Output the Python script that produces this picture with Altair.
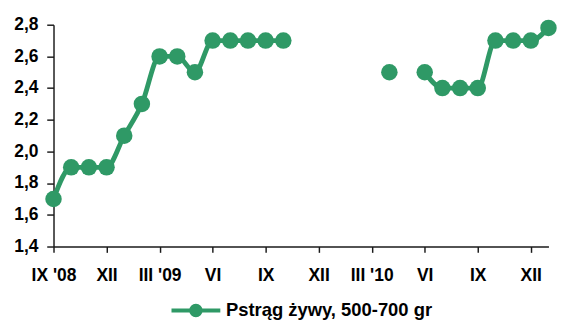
import json
import altair as alt
import pandas as pd

GREEN = "#2f9966"
FONT = "Liberation Sans"

months = ["2008-09", "2008-10", "2008-11", "2008-12", "2009-01", "2009-02", "2009-03",
          "2009-04", "2009-05", "2009-06", "2009-07", "2009-08", "2009-09", "2009-10",
          "2009-11", "2009-12", "2010-01", "2010-02", "2010-03", "2010-04", "2010-05",
          "2010-06", "2010-07", "2010-08", "2010-09", "2010-10", "2010-11", "2010-12",
          "2011-01"]
price = [1.7, 1.9, 1.9, 1.9, 2.1, 2.3, 2.6, 2.6, 2.5, 2.7, 2.7, 2.7, 2.7, 2.7,
         None, None, None, None, None, 2.5, None, 2.5, 2.4, 2.4, 2.4, 2.7, 2.7, 2.7, 2.78]
tick_months = ["2008-09", "2008-12", "2009-03", "2009-06", "2009-09", "2009-12",
               "2010-03", "2010-06", "2010-09", "2010-12"]
tick_labels = ["IX '08", "XII", "III '09", "VI", "IX", "XII", "III '10", "VI", "IX", "XII"]
y_ticks = [1.4, 1.6, 1.8, 2.0, 2.2, 2.4, 2.6, 2.8]
series_name = "Pstrąg żywy, 500-700 gr"

df = pd.DataFrame({
    "month": months,
    "idx": list(range(len(months))),
    "price": price,
    "series": [series_name] * len(months),
})

tick_idx = [months.index(m) for m in tick_months]
label_arr = [""] * len(months)
for i, lab in zip(tick_idx, tick_labels):
    label_arr[i] = lab
x_label_expr = json.dumps(label_arr) + "[round(datum.value)]"

x_enc = alt.X(
    "idx:Q",
    scale=alt.Scale(domain=[0, len(months) - 1], nice=False, zero=False),
    axis=alt.Axis(values=tick_idx, labelExpr=x_label_expr, title=None, grid=False,
                  tickSize=6, labelPadding=15, labelFlush=False, labelOverlap=False),
)
y_enc = alt.Y(
    "price:Q",
    scale=alt.Scale(domain=[1.4, 2.8], nice=False, zero=False),
    axis=alt.Axis(values=y_ticks, labelExpr="replace(format(datum.value, '.1f'), '.', ',')",
                  title=None, grid=False, tickSize=7, labelPadding=9),
)

sym_path = ("M-2.8,0L2.8,0M-0.55,0A0.55,0.55,0,1,0,0.55,0"
            "A0.55,0.55,0,1,0,-0.55,0Z")

line = alt.Chart(df).mark_line(
    color=GREEN, strokeWidth=5, interpolate="monotone",
    invalid="break-paths-show-domains",
).encode(x=x_enc, y=y_enc)

points = alt.Chart(df).mark_circle(size=290, opacity=1).encode(
    x=x_enc, y=y_enc,
    color=alt.Color(
        "series:N",
        scale=alt.Scale(domain=[series_name], range=[GREEN]),
        legend=alt.Legend(
            orient="none", legendX=136, legendY=284, title=None,
            symbolType=sym_path, symbolSize=324, symbolStrokeWidth=4,
            symbolFillColor=GREEN, symbolStrokeColor=GREEN, symbolOpacity=1,
            labelFont=FONT, labelFontSize=19, labelFontWeight="bold",
            labelColor="black", labelOffset=20, labelLimit=0, padding=0,
        ),
    ),
)

chart = alt.layer(line, points).properties(
    width=511, height=229, padding={"left": 5, "top": 3, "right": 5, "bottom": 5}
).configure_view(
    stroke=None
).configure_axis(
    domainColor="#1a1a1a", domainWidth=1.5, tickColor="#1a1a1a", tickWidth=1.5,
    labelFont=FONT, labelFontSize=18, labelFontWeight="bold", labelColor="black",
)

chart.save("out.html", embed_options={"renderer": "svg", "actions": False})
